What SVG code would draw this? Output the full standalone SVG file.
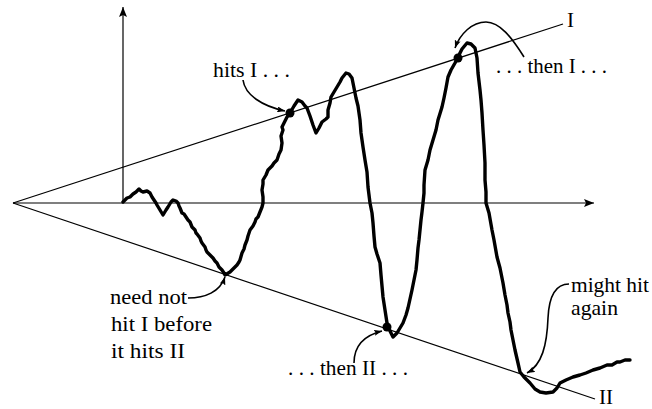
<svg xmlns="http://www.w3.org/2000/svg" width="652" height="409" viewBox="0 0 652 409">
<style>
.ln{stroke:#000;stroke-width:1.2;fill:none}
.bm{stroke:#000;stroke-width:3.4;fill:none;stroke-linejoin:round;stroke-linecap:round}
.co{stroke:#000;stroke-width:1.6;fill:none}
.t{font-family:"Liberation Serif","Times New Roman",serif;font-size:21px;fill:#000}
</style>
<defs>
<marker id="ax" viewBox="0 0 10 8" refX="10" refY="4" markerWidth="10" markerHeight="8" markerUnits="userSpaceOnUse" orient="auto">
<path d="M0,0 L10,4 L0,8 L2,4 Z" fill="#000"/>
</marker>
<marker id="ah" viewBox="0 0 8 6" refX="8" refY="3" markerWidth="8" markerHeight="6" markerUnits="userSpaceOnUse" orient="auto">
<path d="M0,0 L8,3 L0,6 L1.5,3 Z" fill="#000"/>
</marker>
</defs>
<rect width="652" height="409" fill="#fff"/>
<g id="axes">
<line class="ln" x1="13" y1="203" x2="594" y2="203" marker-end="url(#ax)"/>
<line class="ln" x1="123" y1="203" x2="123" y2="7" marker-end="url(#ax)"/>
</g>
<g id="boundaries">
<line class="ln" x1="13" y1="203" x2="563" y2="24"/>
<line class="ln" x1="13" y1="203" x2="595" y2="399"/>
</g>
<g id="path">
<polyline class="bm" points="123,202 127,198 130,197 133,194 136,192 139,189 141,191 143,192 147,191 150,193 152,197 154,200 156,203 157,205 160,210 163,215 166,210 168,207 171,202 173,200 176,201 178,203 179,206 180,208 182,213 184,214 186,217 188,220 190,222 192,227 195,230 196,233 197,234 200,238 201,241 202,243 205,247 206,250 207,252 210,255 213,258 215,261 217,263 219,267 222,270 224,273 225,275 230,272 234,268 237,265 239,262 240,260 242,253 244,249 245,245 247,240 248,236 250,230 253,226 255,222 256,219 258,217 260,212 262,207 263,203 263,197 262,190 263,184 263,180 266,175 268,170 272,166 274,163 277,160 279,154 281,150 282,143 281,136 283,130 282,127 285,121 287,117 290,113 294,106 298,100 302,102 305,106 307,108 310,116 313,125 316,133 319,128 322,122 326,119 328,117 328,110 330,103 331,97 334,92 337,87 340,82 342,78 346,73 349,74 352,78 354,88 356,98 358,106 360,120 361,133 363,147 365,160 367,172 368,187 370,203 372,213 373,223 374,236 375,247 377,254 380,263 381,275 382,286 383,297 385,310 387,323 390,331 393,337 397,333 403,323 406,315 408,308 410,299 412,290 414,280 416,270 417,260 418,248 419,240 420,230 421,220 422,212 423,203 424,193 424,185 425,170 428,160 430,150 433,140 436,130 438,120 442,107 444,98 446,88 448,77 451,70 455,63 458,57 462,49 467,43 471,44 475,48 477,58 478,73 480,90 481,100 482,113 483,130 484,145 485,163 485,180 486,192 486,203 489,213 492,230 494,240 497,257 500,268 503,283 505,295 507,305 508,313 510,322 511,330 513,340 515,350 518,363 520,372 524,377 530,383 535,389 540,392 546,393 553,392 557,388 560,383 566,380 573,377 580,375 586,373 593,370 600,368 607,365 612,365 617,362 620,362 625,360 630,360"/>
<circle cx="290" cy="113" r="4.5" fill="#000"/>
<circle cx="458" cy="58" r="4.5" fill="#000"/>
<circle cx="387" cy="327" r="4.5" fill="#000"/>
</g>
<g id="connectors">
<path class="co" d="M243,80 C245,95 262,106 285,111" marker-end="url(#ah)"/>
<path class="co" d="M524,57 C512,38 500,22 486,22 C472,22 460,34 455,48" marker-end="url(#ah)"/>
<path class="co" d="M188,298 C205,298 220,292 225,277" marker-end="url(#ah)"/>
<path class="co" d="M354,363 C354,348 362,336 382,331" marker-end="url(#ah)"/>
<path class="co" d="M569,284 C555,284 549,296 548,318 C547,345 542,365 527,373" marker-end="url(#ah)"/>
</g>
<g id="labels">
<text class="t" x="213" y="77" textLength="77" lengthAdjust="spacingAndGlyphs">hits I . . .</text>
<text class="t" x="496" y="73" textLength="111" lengthAdjust="spacingAndGlyphs">. . . then I . . .</text>
<text class="t" x="567" y="27">I</text>
<text class="t" x="110" y="304" textLength="77" lengthAdjust="spacingAndGlyphs">need not</text>
<text class="t" x="111" y="331" textLength="101" lengthAdjust="spacingAndGlyphs">hit I before</text>
<text class="t" x="111" y="358" textLength="74" lengthAdjust="spacingAndGlyphs">it hits II</text>
<text class="t" x="288" y="375" textLength="120" lengthAdjust="spacingAndGlyphs">. . . then II . . .</text>
<text class="t" x="571" y="292" textLength="78" lengthAdjust="spacingAndGlyphs">might hit</text>
<text class="t" x="571" y="315" textLength="47" lengthAdjust="spacingAndGlyphs">again</text>
<text class="t" x="599" y="404">II</text>
</g>
</svg>
